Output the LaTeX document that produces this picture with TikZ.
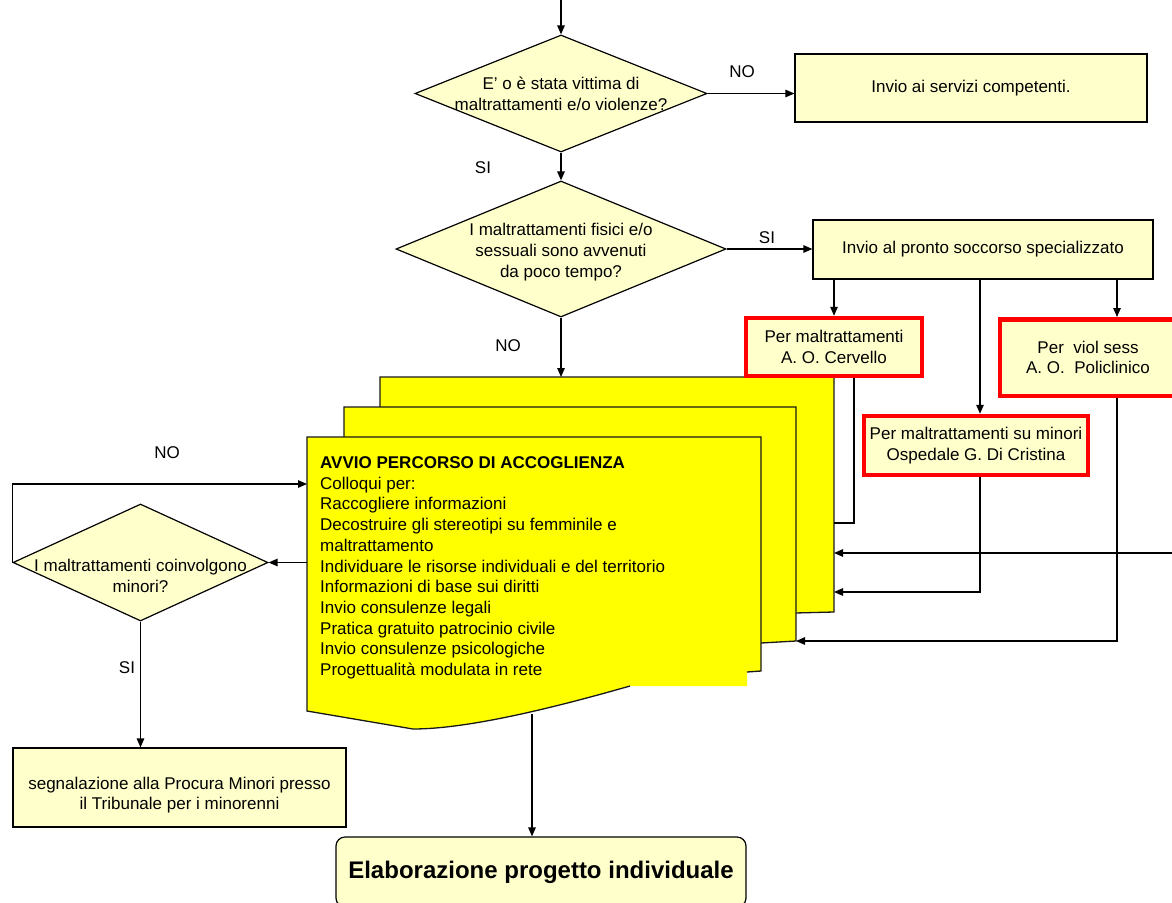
\documentclass[tikz,border=0pt]{standalone}
\usepackage{fontspec}
\setmainfont{Liberation Sans}
\usetikzlibrary{shapes.geometric,arrows.meta,calc}
\definecolor{pale}{HTML}{FFFFCC}
\definecolor{sheetyellow}{HTML}{FFFF00}
\definecolor{alertred}{HTML}{FF0000}

\tikzset{
  txt/.style={font=\fontsize{17}{20.7}\selectfont, inner sep=0pt},
  box/.style={rectangle, draw, fill=pale, line width=1.2pt, inner sep=0pt, align=center,
              font=\fontsize{17}{20.7}\selectfont},
  hosp/.style={box, draw=alertred, line width=4.5pt},
  decision/.style={diamond, draw, fill=pale, line width=1.2pt, inner sep=0pt},
  arr/.style={-{Triangle[length=9pt,width=7.5pt]}, line width=1.3pt},
  wire/.style={line width=1.3pt},
  sheetbox/.style={rectangle, draw=none, inner sep=0pt, outer sep=0pt},
  sheetfill/.style={fill=sheetyellow},
  sheetline/.style={draw=black!90, line width=1.3pt, line join=miter},
}

\begin{document}
\begin{tikzpicture}[x=1pt, y=-1pt]
\useasboundingbox (0,0) rectangle (1172,902);
\clip (0,0) rectangle (1172,902);

% ---- stacked yellow sheets ----
\node[sheetbox, minimum width=454pt, minimum height=235pt] (back) at (607,494.5) {};
\node[sheetbox, minimum width=452pt, minimum height=234pt] (middle) at (570,524) {};
\node[sheetbox, minimum width=454pt, minimum height=274pt] (front) at (534,574) {};

\path[sheetfill, sheetline] (380,377) -- (834,377) -- (834,612) -- (795,613) -- (380,640) -- cycle;
\path[sheetfill, sheetline] (344,407) -- (796,407) -- (796,641) -- (761,643) -- (344,670) -- cycle;
\fill[sheetyellow] (307,437) -- (761,437) -- (761,671) -- (747,672) -- (747,686) -- (630,686)
   .. controls (560,706) and (470,729) .. (413,729) -- (307,711) -- cycle;
\draw[sheetline] (747,672) -- (761,671) -- (761,437) -- (307,437) -- (307,711) -- (413,729)
   .. controls (470,729) and (560,706) .. (630,686);

\node[txt, align=left, anchor=north west] (acctext) at (320,456.5)
  {\textbf{AVVIO PERCORSO DI ACCOGLIENZA}\\
   Colloqui per:\\
   Raccogliere informazioni\\
   Decostruire gli stereotipi su femminile e\\
   maltrattamento\\
   Individuare le risorse individuali e del territorio\\
   Informazioni di base sui diritti\\
   Invio consulenze legali\\
   Pratica gratuito patrocinio civile\\
   Invio consulenze psicologiche\\
   Progettualità modulata in rete};
\coordinate (frontbottom) at (532,714);

% ---- decisions and boxes ----
\coordinate (entry) at (561,0);
\node[decision, minimum width=292pt, minimum height=117pt,
      label={[txt, align=center]center:{E’ o è stata vittima di\\maltrattamenti e/o violenze?}}]
      (d1) at (561,93.5) {};
\node[box, minimum width=352pt, minimum height=68pt] (servizi) at (971,88) {Invio ai servizi competenti.};

\node[decision, minimum width=330pt, minimum height=136pt,
      label={[txt, align=center, yshift=-3pt]center:{I maltrattamenti fisici e/o\\sessuali sono avvenuti\\da poco tempo?}}]
      (d2) at (561,249) {};
\node[box, minimum width=340pt, minimum height=59pt] (pronto) at (983,249.5) {Invio al pronto soccorso specializzato};

\node[hosp, minimum width=176pt, minimum height=58pt] (cervello) at (834,347) {Per maltrattamenti\\A. O. Cervello};
\node[hosp, minimum width=176pt, minimum height=76.5pt] (policlinico) at (1088,357.5) {Per\ \ viol sess\\A. O.\ \ Policlinico};
\node[hosp, minimum width=224pt, minimum height=59pt] (cristina) at (976,445.5) {Per maltrattamenti su minori\\Ospedale G. Di Cristina};

\node[decision, minimum width=255pt, minimum height=117pt,
      label={[txt, align=center, yshift=-13.5pt]center:{I maltrattamenti coinvolgono\\minori?}}]
      (d3) at (140.5,562.5) {};
\node[box, minimum width=333pt, minimum height=79pt,
      label={[txt, align=center, yshift=-7.5pt]center:{segnalazione alla Procura Minori presso\\il Tribunale per i minorenni}}]
      (procura) at (179.5,787.5) {};

\node[box, rounded corners=9pt, minimum width=410pt, minimum height=70pt,
      font=\fontsize{24}{28}\selectfont\bfseries] (elab) at (541,872) {Elaborazione progetto individuale};

% ---- branch labels ----
\node[txt] (no1) at (742,72) {NO};
\node[txt] (si1) at (483,168) {SI};
\node[txt] (si2) at (767,238) {SI};
\node[txt] (no2) at (508,346) {NO};
\node[txt] (no3) at (167,453) {NO};
\node[txt] (si3) at (127,668) {SI};

% ---- connectors ----
\draw[arr] (entry) -- (d1.north);
\draw[arr] (d1.east) -- (d1.east -| servizi.west);
\draw[arr] (d1.south) -- (d2.north);
\draw[arr] (d2.east) -- (d2.east -| pronto.west);
\draw[arr] (d2.south) -- (d2.south |- back.north);

\draw[arr] (cervello.north |- pronto.south) -- (cervello.north);
\draw[arr] ([xshift=4pt]cristina.north |- pronto.south) -- ([xshift=4pt]cristina.north);
\draw[arr] (pronto.south -| 1117,0) -- (policlinico.north -| 1117,0);

\draw[wire] (cervello.south -| 854,0) -- (854,523) -- (back.east |- 0,523);
\coordinate (fromright) at (1180,553);
\draw[arr] (fromright) -- (back.east |- fromright);
\draw[arr] ([xshift=4pt]cristina.south) |- (back.east |- 0,592);
\draw[arr] (policlinico.south -| 1117,0) |- (middle.east |- 0,641);

\draw[arr] (front.west |- d3.east) -- (d3.east);
\draw[arr] (d3.west) -- (d3.west |- 0,484) -- (front.west |- 0,484);
\draw[arr] (d3.south) -- (d3.south |- procura.north);
\draw[arr] (frontbottom) -- (frontbottom |- elab.north);
\end{tikzpicture}
\end{document}
